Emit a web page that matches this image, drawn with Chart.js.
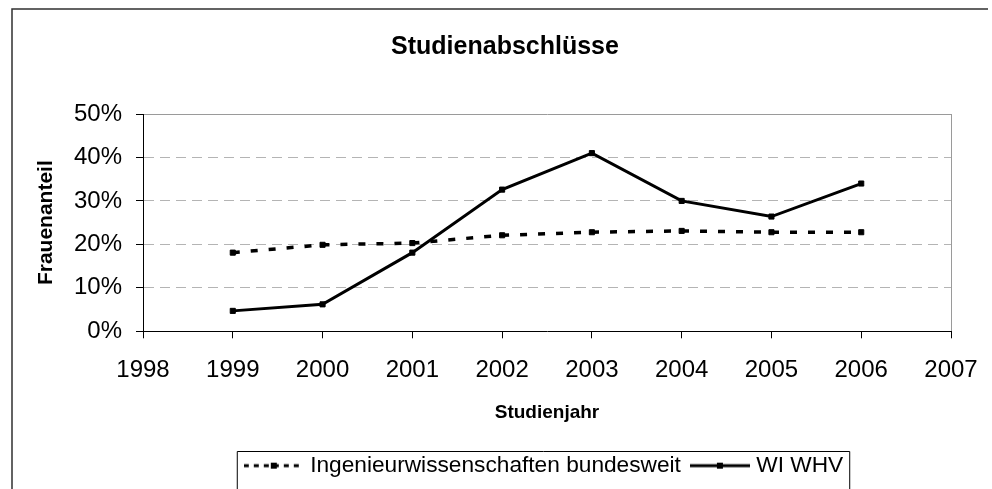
<!DOCTYPE html>
<html>
<head>
<meta charset="utf-8">
<title>Studienabschlüsse</title>
<script src="https://cdn.jsdelivr.net/npm/chart.js@4/dist/chart.umd.min.js"></script>
<style>
  html, body { margin: 0; padding: 0; background: #fff; }
  #wrap { width: 992px; height: 489px; }
</style>
</head>
<body>
<div id="wrap"><canvas id="chart" width="992" height="489"></canvas></div>
<script>
// values (percent)
const years = [1999, 2000, 2001, 2002, 2003, 2004, 2005, 2006];
const ingBundesweit = [18.1, 19.9, 20.3, 22.1, 22.8, 23.1, 22.8, 22.8];
const wiWhv = [4.7, 6.2, 18.1, 32.6, 41.0, 30.0, 26.4, 34.0];
const seriesNames = ["Ingenieurwissenschaften bundesweit", "WI WHV"];
const yRange = [0, 50];
const yStep = 10;
const xRange = [1998, 2007];

Chart.defaults.font.family = '"Liberation Sans", Arial, sans-serif';
Chart.defaults.color = "#000";

const ingDash = [7, 11];

// small legend samples: line + square marker
function makeSample(dash) {
  const c = document.createElement("canvas");
  c.width = 60;
  c.height = 12;
  const g = c.getContext("2d");
  g.strokeStyle = "#000";
  g.lineWidth = 3;
  g.setLineDash(dash);
  g.beginPath();
  g.moveTo(0, 6);
  g.lineTo(60, 6);
  g.stroke();
  g.fillStyle = "#000";
  g.fillRect(27, 3, 6, 6);
  return c;
}
const samples = [makeSample([5, 5]), makeSample([])];

const frame = {
  id: "frame",
  afterLayout(chart) {
    // Excel puts the legend and title a bit right of centre
    const lg = chart.legend;
    const dx = 546 - (lg.left + lg.right) / 2;
    lg.left += dx;
    lg.right += dx;
    const tb = chart.titleBlock;
    if (tb) {
      const tx = 505 - (tb.left + tb.right) / 2;
      tb.left += tx;
      tb.right += tx;
    }
  },
  beforeDraw(chart) {
    const ctx = chart.ctx;
    ctx.save();
    ctx.fillStyle = "#fff";
    ctx.fillRect(0, 0, chart.width, chart.height);
    ctx.strokeStyle = "#303030";
    ctx.lineWidth = 1.5;
    ctx.beginPath();
    ctx.moveTo(12, chart.height + 5);
    ctx.lineTo(12, 9);
    ctx.lineTo(988, 9);
    ctx.stroke();
    ctx.restore();
  },
  afterDraw(chart) {
    const hb = chart.legend.legendHitBoxes;
    if (!hb || !hb.length) return;
    const first = hb[0];
    const last = hb[hb.length - 1];
    const mid = first.top + first.height / 2;
    const ctx = chart.ctx;
    ctx.save();
    ctx.strokeStyle = "#000";
    ctx.lineWidth = 1;
    ctx.beginPath();
    ctx.moveTo(first.left - 11.5, chart.height + 5);
    ctx.lineTo(first.left - 11.5, Math.round(mid - 15) + 0.5);
    ctx.lineTo(last.left + last.width + 6.5, Math.round(mid - 15) + 0.5);
    ctx.lineTo(last.left + last.width + 6.5, chart.height + 5);
    ctx.stroke();
    ctx.restore();
  },
};

new Chart(document.getElementById("chart"), {
  type: "line",
  data: {
    datasets: [
      {
        label: seriesNames[0],
        data: years.map((y, i) => ({ x: y, y: ingBundesweit[i] })),
        borderColor: "#000",
        borderWidth: 3.5,
        borderDash: ingDash,
        pointStyle: "rect",
        pointRadius: 3.6,
        pointBackgroundColor: "#000",
        pointBorderColor: "#000",
        pointBorderWidth: 1,
        tension: 0,
      },
      {
        label: seriesNames[1],
        data: years.map((y, i) => ({ x: y, y: wiWhv[i] })),
        borderColor: "#000",
        borderWidth: 3,
        pointStyle: "rect",
        pointRadius: 3.6,
        pointBackgroundColor: "#000",
        pointBorderColor: "#000",
        pointBorderWidth: 1,
        tension: 0,
      },
    ],
  },
  options: {
    responsive: false,
    animation: false,
    devicePixelRatio: 1,
    layout: { padding: { left: 0, right: 41, top: 0, bottom: 2 } },
    plugins: {
      title: {
        display: true,
        text: "Studienabschlüsse",
        color: "#000",
        font: { size: 25, weight: "bold" },
        padding: { top: 32, bottom: 52 },
      },
      legend: {
        position: "bottom",
        labels: {
          color: "#000",
          font: { size: 22.7 },
          usePointStyle: true,
          pointStyleWidth: 50,
          padding: 14,
          generateLabels(chart) {
            const items = Chart.defaults.plugins.legend.labels.generateLabels(chart);
            items.forEach((it, i) => { it.pointStyle = samples[i]; });
            return items;
          },
        },
      },
      tooltip: { enabled: false },
    },
    scales: {
      x: {
        type: "linear",
        min: xRange[0],
        max: xRange[1],
        afterFit(s) {
          s.height = 109;
          // the outer labels fit inside the padding already
          s.paddingLeft = 0;
          s.paddingRight = 0;
        },
        ticks: {
          stepSize: 1,
          font: { size: 24 },
          color: "#000",
          padding: 18,
          callback: (v) => String(v),
        },
        grid: {
          color: (c) => (c.tick && c.tick.value === xRange[1] ? "#9a9a9a" : "rgba(0,0,0,0)"),
          tickColor: "#000",
          tickLength: 7,
          lineWidth: 1,
        },
        border: { color: "#000", width: 1 },
        title: {
          display: true,
          text: "Studienjahr",
          color: "#000",
          font: { size: 19, weight: "bold" },
          padding: { top: 0, bottom: 16 },
        },
      },
      y: {
        min: yRange[0],
        max: yRange[1],
        afterFit(s) { s.width = 143; },
        ticks: {
          stepSize: yStep,
          font: { size: 24 },
          color: "#000",
          padding: 14,
          callback: (v) => v + "%",
        },
        grid: {
          color: (c) => {
            if (!c.tick) return "#b4b4b4";
            if (c.tick.value === yRange[0]) return "rgba(0,0,0,0)";
            if (c.tick.value === yRange[1]) return "#9a9a9a";
            return "#b4b4b4";
          },
          tickColor: "#000",
          tickLength: 7,
          lineWidth: 1,
        },
        border: {
          color: "#000",
          width: 1,
          dash: (c) => (c.tick && c.tick.value !== yRange[1] ? [10, 6] : []),
        },
        title: {
          display: true,
          text: "Frauenanteil",
          color: "#000",
          font: { size: 21, weight: "bold" },
          padding: { top: 34, bottom: 0 },
        },
      },
    },
  },
  plugins: [frame],
});
</script>
</body>
</html>
